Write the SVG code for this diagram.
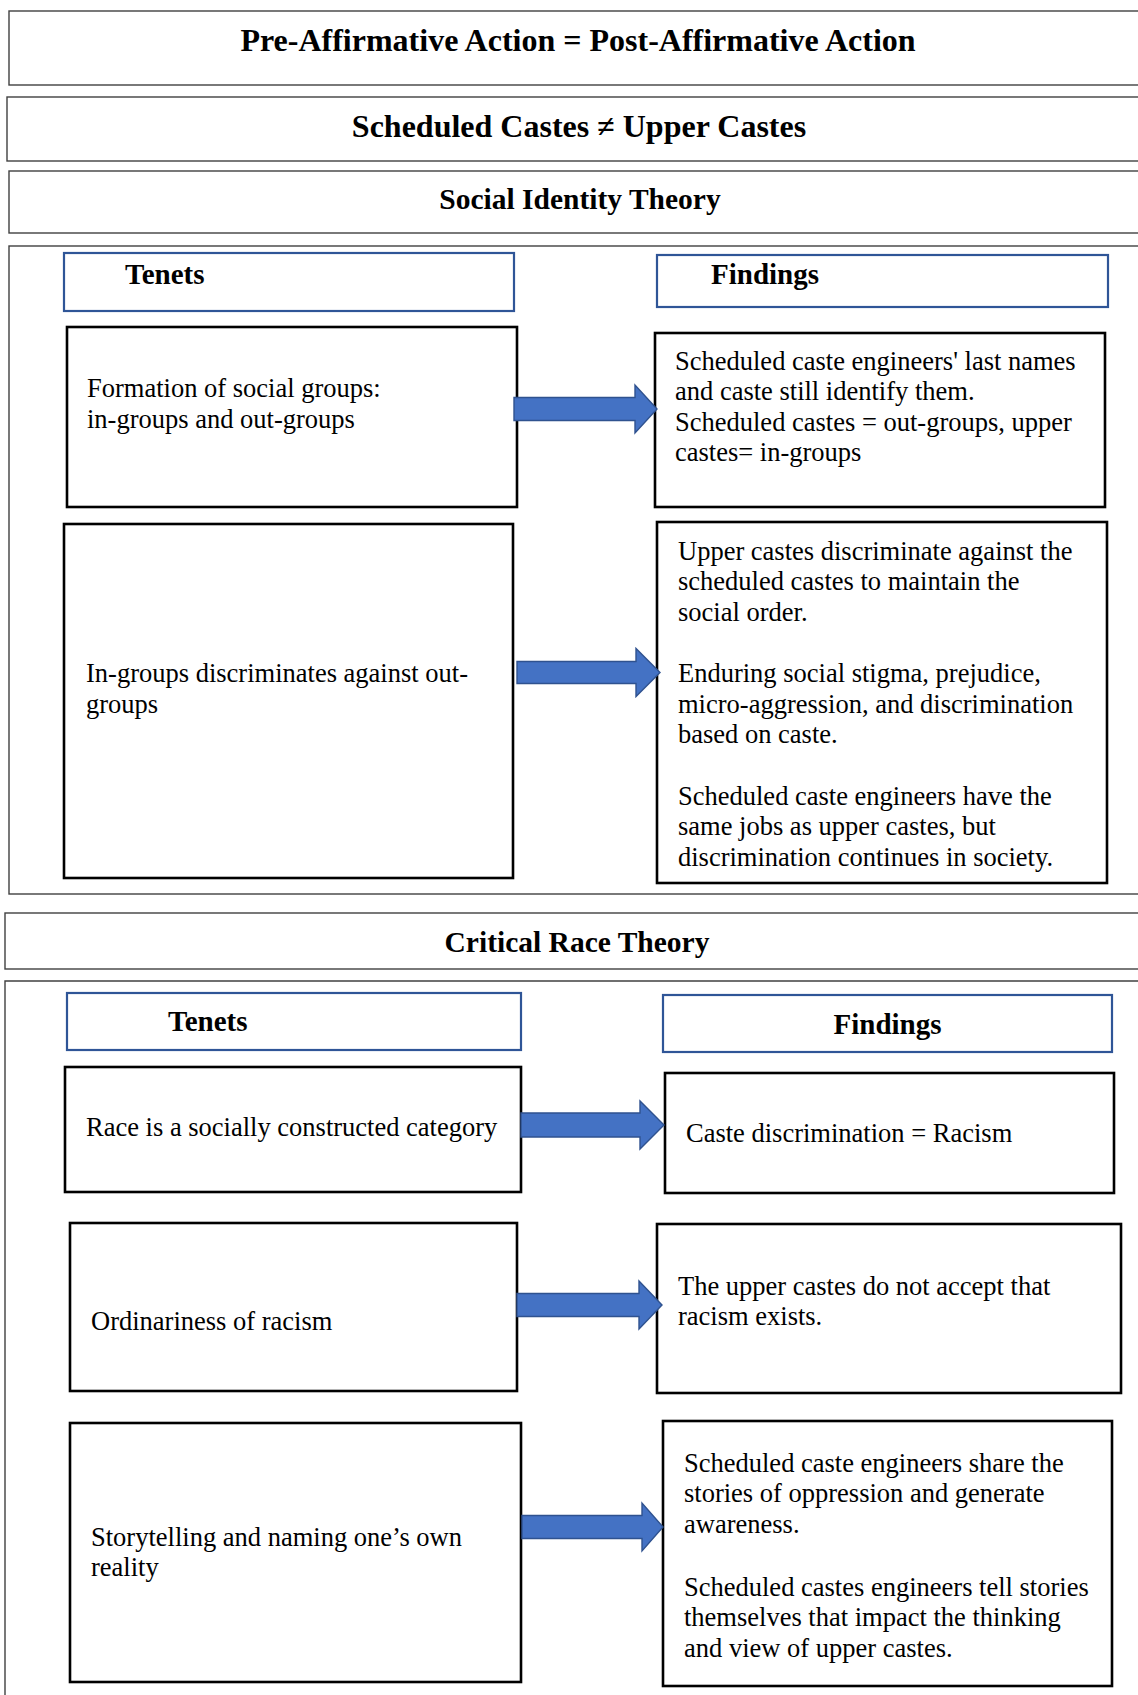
<svg xmlns="http://www.w3.org/2000/svg" width="1138" height="1695" viewBox="0 0 1138 1695">
<style>
.frame{fill:#fff;stroke:#404040;stroke-width:1.4}
.hdr{fill:#fff;stroke:#2F5597;stroke-width:2.2}
.node{fill:#fff;stroke:#000;stroke-width:2.6}
.arrow{fill:#4472C4;stroke:#2F528F;stroke-width:1.4}
.title{font-family:"Liberation Serif","Times New Roman",serif;font-weight:bold;fill:#000}
.t32{font-size:32px}
.t29{font-size:29.5px}
.th{font-size:29px}
.body{font-family:"Liberation Serif","Times New Roman",serif;font-size:26.5px;fill:#000}
</style>
<rect width="1138" height="1695" fill="#fff"/>

<g id="title-affirmative">
<rect class="frame" x="9" y="11" width="1150" height="74"/>
<text class="title t32" x="578" y="51" text-anchor="middle">Pre-Affirmative Action = Post-Affirmative Action</text>
</g>
<g id="title-castes">
<rect class="frame" x="7" y="97" width="1150" height="64"/>
<text class="title t32" x="579" y="137" text-anchor="middle">Scheduled Castes ≠ Upper Castes</text>
</g>
<g id="title-sit">
<rect class="frame" x="9" y="171" width="1150" height="62"/>
<text class="title t29" x="580" y="209" text-anchor="middle">Social Identity Theory</text>
</g>
<g id="sit-panel">
<rect class="frame" x="9" y="246" width="1150" height="648"/>
</g>
<g id="sit-tenets-header">
<rect class="hdr" x="64" y="253" width="450" height="58"/>
<text class="title th" x="125" y="284">Tenets</text>
</g>
<g id="sit-findings-header">
<rect class="hdr" x="657" y="255" width="451" height="52"/>
<text class="title th" x="711" y="284">Findings</text>
</g>
<g id="sit-tenet-1">
<rect class="node" x="67" y="327" width="450" height="180"/>
<text class="body"><tspan x="87" y="397">Formation of social groups:</tspan><tspan x="87" y="428">in-groups and out-groups</tspan></text>
</g>
<g id="sit-finding-1">
<rect class="node" x="655" y="333" width="450" height="174"/>
<text class="body"><tspan x="675" y="369.5">Scheduled caste engineers' last names</tspan><tspan x="675" y="400">and caste still identify them.</tspan><tspan x="675" y="430.5">Scheduled castes = out-groups, upper</tspan><tspan x="675" y="461">castes= in-groups</tspan></text>
</g>
<g id="sit-tenet-2">
<rect class="node" x="64" y="524" width="449" height="354"/>
<text class="body"><tspan x="86" y="682">In-groups discriminates against out-</tspan><tspan x="86" y="712.5">groups</tspan></text>
</g>
<g id="sit-finding-2">
<rect class="node" x="657" y="522" width="450" height="361"/>
<text class="body"><tspan x="678" y="559.5">Upper castes discriminate against the</tspan><tspan x="678" y="590">scheduled castes to maintain the</tspan><tspan x="678" y="620.5">social order.</tspan><tspan x="678" y="682">Enduring social stigma, prejudice,</tspan><tspan x="678" y="712.5">micro-aggression, and discrimination</tspan><tspan x="678" y="743">based on caste.</tspan><tspan x="678" y="804.5">Scheduled caste engineers have the</tspan><tspan x="678" y="835">same jobs as upper castes, but</tspan><tspan x="678" y="865.5">discrimination continues in society.</tspan></text>
</g>

<g id="title-crt">
<rect class="frame" x="5" y="913" width="1150" height="56"/>
<text class="title t29" x="577" y="952" text-anchor="middle">Critical Race Theory</text>
</g>
<g id="crt-panel">
<path class="frame" d="M1160 981 H5 V1700" fill="none"/>
</g>
<g id="crt-tenets-header">
<rect class="hdr" x="67" y="993" width="454" height="57"/>
<text class="title th" x="168" y="1031">Tenets</text>
</g>
<g id="crt-findings-header">
<rect class="hdr" x="663" y="995" width="449" height="57"/>
<text class="title th" x="887.5" y="1034" text-anchor="middle">Findings</text>
</g>
<g id="crt-tenet-1">
<rect class="node" x="65" y="1067" width="456" height="125"/>
<text class="body" x="86" y="1135.5">Race is a socially constructed category</text>
</g>
<g id="crt-finding-1">
<rect class="node" x="665" y="1073" width="449" height="120"/>
<text class="body" x="686" y="1141.5">Caste discrimination = Racism</text>
</g>
<g id="crt-tenet-2">
<rect class="node" x="70" y="1223" width="447" height="168"/>
<text class="body" x="91" y="1329.5">Ordinariness of racism</text>
</g>
<g id="crt-finding-2">
<rect class="node" x="657" y="1224" width="464" height="169"/>
<text class="body"><tspan x="678" y="1294.5">The upper castes do not accept that</tspan><tspan x="678" y="1325">racism exists.</tspan></text>
</g>
<g id="crt-tenet-3">
<rect class="node" x="70" y="1423" width="451" height="259"/>
<text class="body"><tspan x="91" y="1545.5">Storytelling and naming one’s own</tspan><tspan x="91" y="1576">reality</tspan></text>
</g>
<g id="crt-finding-3">
<rect class="node" x="663" y="1421" width="449" height="265"/>
<text class="body"><tspan x="684" y="1471.5">Scheduled caste engineers share the</tspan><tspan x="684" y="1502">stories of oppression and generate</tspan><tspan x="684" y="1532.5">awareness.</tspan><tspan x="684" y="1595.5">Scheduled castes engineers tell stories</tspan><tspan x="684" y="1626">themselves that impact the thinking</tspan><tspan x="684" y="1656.5">and view of upper castes.</tspan></text>
</g>

<g id="connectors">
<path class="arrow" d="M514 397.5 H635 V385 L657 409 L635 433 V420.5 H514 Z"/>
<path class="arrow" d="M517 661.5 H636 V648.5 L660 672.5 L636 696.5 V683.5 H517 Z"/>
<path class="arrow" d="M521 1113 H640 V1101 L664 1125 L640 1149 V1137 H521 Z"/>
<path class="arrow" d="M517 1293.5 H639 V1281 L662 1305 L639 1329 V1316.5 H517 Z"/>
<path class="arrow" d="M522 1515.5 H642 V1503 L663 1527 L642 1551 V1538.5 H522 Z"/>
</g>
</svg>
